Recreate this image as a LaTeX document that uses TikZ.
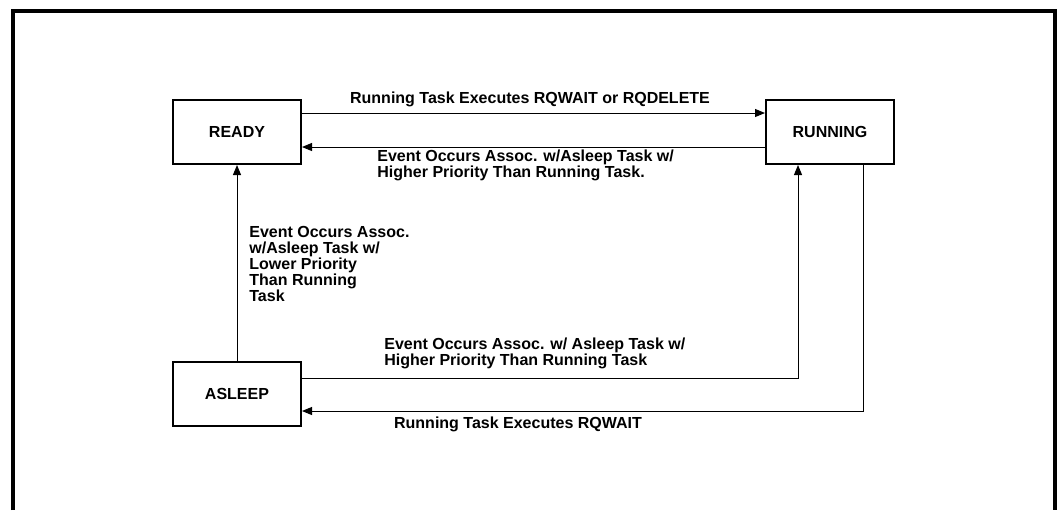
\documentclass[tikz,border=0pt]{standalone}
\usepackage{fontspec}
\setmainfont{Liberation Sans}
\usetikzlibrary{positioning, arrows.meta}

\begin{document}
\begin{tikzpicture}[
  x=0.5pt, y=-0.5pt,
  state/.style={rectangle, draw=black, line width=1pt, minimum width=64pt,
                minimum height=32pt, align=center,
                font=\fontsize{8}{8}\selectfont\bfseries},
  lbl/.style={align=left, inner sep=0pt, font=\fontsize{8}{8}\selectfont\bfseries},
  arr/.style={-{Triangle[length=5pt, width=4pt]}, line width=0.5pt},
  node distance=98pt and 231.5pt
]
  \useasboundingbox (0,0) rectangle (1059,510);
  \draw[line width=1.6pt] (13,510) -- (13,11) -- (1055,11) -- (1055,510);

  \node[state] (ready) at (237,132) {READY};
  \node[state, right=of ready] (running) {RUNNING};
  \node[state, below=of ready] (asleep) {ASLEEP};

  \draw[arr] ([yshift=9.5pt]ready.east) -- ([yshift=9.5pt]ready.east -| running.west);
  \draw[arr] ([yshift=-7.5pt]ready.east -| running.west) -- ([yshift=-7.5pt]ready.east);
  \draw[arr] (asleep) -- (ready);
  \draw[arr] ([yshift=8pt]asleep.east) -| ([xshift=-16pt]running.south);
  \draw[arr] ([xshift=16.5pt]running.south) |- ([yshift=-8.5pt]asleep.east);

  \node[lbl] (lbltop) at (530,99) {Running Task Executes RQWAIT or RQDELETE};
  \node[lbl, anchor=west] (lblhigh) at (377,165)
    {Event Occurs Assoc. w/Asleep Task w/\\Higher Priority Than Running Task.};
  \node[lbl, anchor=west] (lbllow) at (249,264)
    {Event Occurs Assoc.\\w/Asleep Task w/\\Lower Priority\\Than Running\\Task};
  \node[lbl, anchor=west] (lblwake) at (384,353)
    {Event Occurs Assoc. w/ Asleep Task w/\\Higher Priority Than Running Task};
  \node[lbl] (lblwait) at (518,424) {Running Task Executes RQWAIT};
\end{tikzpicture}
\end{document}
